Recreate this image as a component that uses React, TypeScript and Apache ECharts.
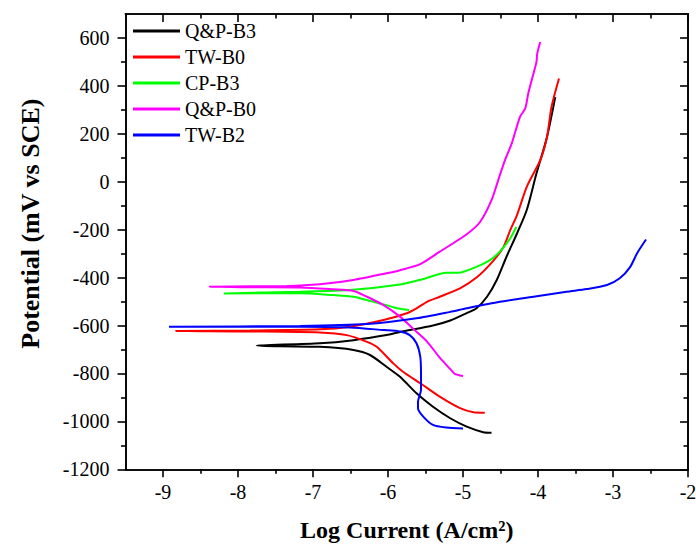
import React, { useEffect, useRef } from "react";
import * as echarts from "echarts";

const FONT = "Liberation Serif";

// Series names (legend order)
const seriesNames = ["Q&P-B3", "TW-B0", "CP-B3", "Q&P-B0", "TW-B2"];
const seriesColors = ["#000000", "#ff0000", "#00ff00", "#ff00ff", "#0000ff"];

// Q&P-B3 (black): cathodic end -> Ecorr -> anodic end
const qpB3Log = [-4.62, -4.73, -4.95, -5.17, -5.4, -5.62, -5.84, -6.02, -6.24, -6.46, -6.91, -7.75,
  -6.91, -6.46, -6.02, -5.84, -5.4, -5.17, -4.95, -4.82, -4.68, -4.55, -4.42, -4.28, -4.15, -4.02, -3.88, -3.77];
const qpB3Pot = [-1047, -1045, -1022, -987, -939, -883, -814, -772, -723, -702, -689, -684,
  -674, -661, -640, -627, -600, -579, -548, -528, -480, -410, -313, -216, -118, 35, 187, 353];

// TW-B0 (red)
const twB0Log = [-4.71, -4.86, -5.04, -5.31, -5.57, -5.8, -5.93, -6.15, -6.28, -6.55, -6.91, -7.84, -8.83,
  -7.84, -6.91, -6.51, -6.06, -5.75, -5.62, -5.48, -5.31, -5.04, -4.82, -4.6, -4.46, -4.37, -4.28, -4.15, -3.97, -3.88, -3.82, -3.72];
const twB0Pot = [-964, -962, -945, -897, -841, -793, -758, -689, -668, -640, -629, -625, -623,
  -621, -616, -605, -577, -549, -528, -501, -480, -445, -400, -331, -272, -202, -139, -21, 90, 187, 312, 431];

// CP-B3 (green)
const cpB3Log = [-5.72, -5.88, -6.02, -6.28, -6.46, -6.73, -7.17, -8.19,
  -7.17, -6.51, -5.84, -5.53, -5.22, -5.06, -4.82, -4.64, -4.51, -4.37, -4.29];
const cpB3Pot = [-535, -528, -515, -494, -480, -473, -465, -466,
  -459, -452, -429, -406, -380, -380, -355, -327, -292, -236, -189];

// Q&P-B0 (magenta)
const qpB0Log = [-5.0, -5.11, -5.17, -5.31, -5.48, -5.66, -5.84, -6.06, -6.28, -6.46, -6.73, -7.17, -7.84, -8.38,
  -7.35, -6.91, -6.46, -6.02, -5.84, -5.57, -5.31, -4.95, -4.77, -4.62, -4.53, -4.44, -4.35, -4.24, -4.17, -4.13, -4.06, -4.02, -4.01, -3.97];
const qpB0Pot = [-811, -802, -782, -734, -667, -615, -563, -515, -480, -456, -449, -441, -440, -438,
  -435, -428, -410, -382, -369, -344, -292, -219, -167, -77, 7, 90, 160, 271, 306, 368, 452, 500, 535, 583];

// TW-B2 (blue)
const twB2Log = [-5.0, -5.22, -5.4, -5.53, -5.6, -5.6, -5.56, -5.56, -5.57, -5.62, -5.71, -5.84, -6.06, -6.51, -7.17, -8.92,
  -7.17, -6.28, -5.62, -5.17, -4.95, -4.51, -4.06, -3.62, -3.35, -3.08, -2.91, -2.77, -2.68, -2.56];
const twB2Pot = [-1030, -1026, -1015, -980, -945, -918, -869, -799, -730, -674, -640, -625, -619, -608, -605, -605,
  -602, -594, -570, -543, -528, -501, -480, -459, -448, -431, -403, -355, -299, -241];

// Axis ticks
const xMajor = [-9, -8, -7, -6, -5, -4, -3, -2];
const xMinor = [-8.5, -7.5, -6.5, -5.5, -4.5, -3.5, -2.5];
const yMajor = [-1200, -1000, -800, -600, -400, -200, 0, 200, 400, 600];
const yMinor = [-1100, -900, -700, -500, -300, -100, 100, 300, 500];

const logs = [qpB3Log, twB0Log, cpB3Log, qpB0Log, twB2Log];
const pots = [qpB3Pot, twB0Pot, cpB3Pot, qpB0Pot, twB2Pot];

const X_MIN = -9.5, X_MAX = -2, Y_MIN = -1200, Y_MAX = 700;

const fmt = (v: number) => String(v);

function makeX(position: string, ticks: number[], len: number, inside: boolean, main: boolean) {
  return {
    type: "value",
    position,
    min: X_MIN,
    max: X_MAX,
    interval: 0.5,
    splitLine: { show: false },
    axisLine: { show: true, onZero: false, lineStyle: { color: "#000", width: 1.6 } },
    axisTick: { show: true, inside, length: len, customValues: ticks, lineStyle: { color: "#000", width: 1.6 } },
    axisLabel: main
      ? { show: true, customValues: xMajor, formatter: fmt, fontFamily: FONT, fontSize: 20, color: "#000", margin: 13 }
      : { show: false },
    name: main ? "Log Current (A/cm²)" : "",
    nameLocation: "middle",
    nameGap: 49,
    nameTextStyle: { fontFamily: FONT, fontSize: 24, fontWeight: "bold", color: "#000" },
  };
}

function makeY(position: string, ticks: number[], len: number, inside: boolean, main: boolean) {
  return {
    type: "value",
    position,
    min: Y_MIN,
    max: Y_MAX,
    interval: 100,
    splitLine: { show: false },
    axisLine: { show: true, onZero: false, lineStyle: { color: "#000", width: 1.6 } },
    axisTick: { show: true, inside, length: len, customValues: ticks, lineStyle: { color: "#000", width: 1.6 } },
    axisLabel: main
      ? { show: true, customValues: yMajor, formatter: fmt, fontFamily: FONT, fontSize: 20, color: "#000", margin: 16 }
      : { show: false },
    name: main ? "Potential (mV vs SCE)" : "",
    nameLocation: "middle",
    nameRotate: 90,
    nameGap: 82,
    nameTextStyle: { fontFamily: FONT, fontSize: 26, fontWeight: "bold", color: "#000", padding: [0, 0, 0, 36] },
  };
}

export default function App() {
  const ref = useRef<HTMLDivElement>(null);
  useEffect(() => {
    if (!ref.current) return;
    const chart = echarts.init(ref.current, undefined, { renderer: "svg" });
    const series = seriesNames.map((name, i) => ({
      name,
      type: "line",
      xAxisIndex: 0,
      yAxisIndex: 0,
      showSymbol: false,
      symbol: "none",
      smooth: 0.25,
      color: seriesColors[i],
      lineStyle: { color: seriesColors[i], width: 2 },
      data: logs[i].map((x, j) => [x, pots[i][j]]),
    }));
    chart.setOption({
      animation: false,
      backgroundColor: "#ffffff",
      grid: { left: 125.5, right: 8, top: 14, bottom: 75.7, containLabel: false, outerBoundsMode: "none" },
      legend: {
        data: seriesNames,
        orient: "vertical",
        left: 128,
        top: 16,
        icon: "rect",
        itemWidth: 47,
        itemHeight: 3,
        itemGap: 6,
        textStyle: { fontFamily: FONT, fontSize: 20, color: "#000", lineHeight: 20 },
      },
      xAxis: [
        makeX("bottom", xMajor, 8, false, true),
        makeX("bottom", xMinor, 4.5, false, false),
        makeX("top", xMajor, 8, true, false),
        makeX("top", xMinor, 4.5, true, false),
      ],
      yAxis: [
        makeY("left", yMajor, 8, false, true),
        makeY("left", yMinor, 4.5, false, false),
        makeY("right", yMajor, 8, true, false),
        makeY("right", yMinor, 4.5, true, false),
      ],
      series,
    });
    return () => chart.dispose();
  }, []);
  return (
    <div
      ref={ref}
      style={{ position: "absolute", left: 0, top: 0, width: 696, height: 545, background: "#fff" }}
    />
  );
}
